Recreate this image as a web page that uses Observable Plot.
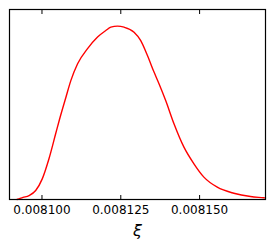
<!DOCTYPE html>
<html>
<head>
<meta charset="utf-8">
<script src="https://cdn.jsdelivr.net/npm/d3@7"></script>
<script src="https://cdn.jsdelivr.net/npm/@observablehq/plot@0.6"></script>
<style>
  html, body { margin: 0; padding: 0; background: #fff; }
  svg { font-family: "DejaVu Sans", sans-serif; }
  g[aria-label="x-axis label"] text { font-style: italic; font-size: 16px; }
</style>
</head>
<body>
<div id="chart"></div>
<script>
const xiValues = [0.00809209, 0.00809272, 0.00809399, 0.00809589, 0.00809801, 0.00810009, 0.00810222, 0.00810434, 0.00810547, 0.00810760, 0.00810918, 0.00811130, 0.00811446, 0.00811763, 0.00812025, 0.00812184, 0.00812396, 0.00812604, 0.00812921, 0.00813133, 0.00813345, 0.00813554, 0.00813712, 0.00813924, 0.00814187, 0.00814503, 0.00814820, 0.00815136, 0.00815560, 0.00816085, 0.00816614, 0.00817035, 0.00817089];
const density = [0, 0.004, 0.012, 0.023, 0.052, 0.119, 0.235, 0.379, 0.456, 0.590, 0.687, 0.783, 0.870, 0.937, 0.975, 0.994, 1.0, 0.994, 0.965, 0.917, 0.831, 0.735, 0.668, 0.571, 0.437, 0.302, 0.206, 0.129, 0.071, 0.036, 0.017, 0.010, 0.009];
const xTicks = [0.008100, 0.008125, 0.008150];
const xDomain = [0.0080897, 0.0081709];
const yDomain = [0, 1.096];

const data = xiValues.map((x, i) => ({x, y: density[i]}));

const chart = Plot.plot({
  width: 274,
  height: 249,
  marginLeft: 9,
  marginRight: 9,
  marginTop: 9,
  marginBottom: 50,
  style: {fontSize: "12px", fontFamily: "DejaVu Sans, sans-serif", color: "#000", background: "#fff"},
  x: {domain: xDomain},
  y: {domain: yDomain},
  marks: [
    Plot.line(data, {x: "x", y: "y", stroke: "#ff0000", strokeWidth: 1.4, curve: "monotone-x"}),
    Plot.axisX({anchor: "bottom", ticks: xTicks, tickSize: -4, tickPadding: 10, fontSize: 12, tickFormat: d3.format(".6f"), label: "ξ", labelAnchor: "center", labelOffset: 36, labelArrow: "none"}),
    Plot.axisX({anchor: "top", ticks: xTicks, tickSize: -4, tickFormat: () => "", label: null}),
    Plot.axisY({ticks: [], label: null}),
    Plot.frame({stroke: "#000", strokeWidth: 1.2})
  ]
});
document.getElementById("chart").appendChild(chart);
</script>
</body>
</html>
